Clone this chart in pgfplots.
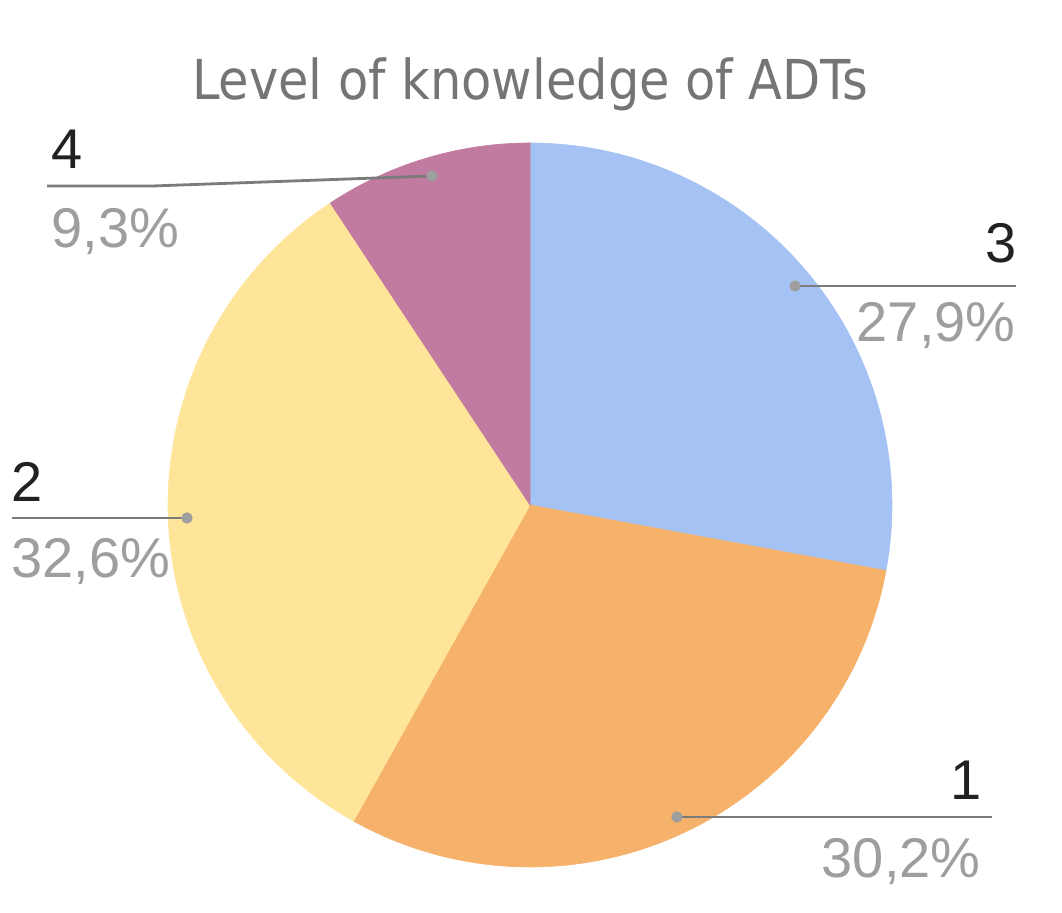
\documentclass[border=0pt]{standalone}
\usepackage{pgfplots}
\usepackage{pgfplotstable}
\pgfplotsset{compat=1.18}
\usepackage{fontspec}
\setmainfont{Liberation Sans}
\newfontfamily\titlefont{DejaVu Sans Condensed}
\definecolor{cblue}{HTML}{A4C2F4}
\definecolor{corange}{HTML}{F6B26B}
\definecolor{cyellow}{HTML}{FFE599}
\definecolor{cpurple}{HTML}{C27BA0}
\definecolor{ctitle}{HTML}{757575}
\definecolor{cpct}{HTML}{9E9E9E}
\definecolor{cnum}{HTML}{212121}
\definecolor{cline}{HTML}{7B7B7B}
\definecolor{cdot}{HTML}{9E9E9E}

% slices in drawing order, clockwise from the top
\pgfplotstableread{
label pct
3 27.9
1 30.2
2 32.6
4 9.3
}\piedata

\pgfplotstablegetelem{0}{pct}\of\piedata \let\pA\pgfplotsretval
\pgfplotstablegetelem{1}{pct}\of\piedata \let\pB\pgfplotsretval
\pgfplotstablegetelem{2}{pct}\of\piedata \let\pC\pgfplotsretval
\pgfplotstablegetelem{3}{pct}\of\piedata \let\pD\pgfplotsretval
\pgfmathsetmacro{\aZero}{90}
\pgfmathsetmacro{\aOne}{\aZero-3.6*\pA}
\pgfmathsetmacro{\aTwo}{\aOne-3.6*\pB}
\pgfmathsetmacro{\aThree}{\aTwo-3.6*\pC}
\pgfmathsetmacro{\aFour}{\aThree-3.6*\pD}

\begin{document}
\begin{tikzpicture}
\begin{axis}[
  width=531pt, height=456.5pt, scale only axis,
  xmin=0, xmax=1062, ymin=0, ymax=913,
  hide axis, clip=false,
]
% full canvas as bounding box
\path (axis cs:0,0) rectangle (axis cs:1062,913);
% pie slices (center 530,408; radius 362)
\addplot[fill=cblue, draw=cblue, line width=0.3pt, domain=\aOne:\aZero, samples=120, variable=\t]
  ({530+362*cos(\t)},{408+362*sin(\t)}) -- (axis cs:530,408) -- cycle;
\addplot[fill=corange, draw=corange, line width=0.3pt, domain=\aTwo:\aOne, samples=120, variable=\t]
  ({530+362*cos(\t)},{408+362*sin(\t)}) -- (axis cs:530,408) -- cycle;
\addplot[fill=cyellow, draw=cyellow, line width=0.3pt, domain=\aThree:\aTwo, samples=120, variable=\t]
  ({530+362*cos(\t)},{408+362*sin(\t)}) -- (axis cs:530,408) -- cycle;
\addplot[fill=cpurple, draw=cpurple, line width=0.3pt, domain=\aFour:\aThree, samples=60, variable=\t]
  ({530+362*cos(\t)},{408+362*sin(\t)}) -- (axis cs:530,408) -- cycle;

% leader lines
\addplot[cline, line width=1.4pt, no marks] coordinates {(432,737) (153,727) (47,727)};
\addplot[cline, line width=1.4pt, no marks] coordinates {(795,627) (1016,627)};
\addplot[cline, line width=1.4pt, no marks] coordinates {(12,395) (187,395)};
\addplot[cline, line width=1.4pt, no marks] coordinates {(677,96) (992,96)};
% dots
\addplot[only marks, mark=*, mark size=2.6pt, cdot, mark options={draw=cdot, fill=cdot}]
  coordinates {(432,737) (795,627) (187,395) (677,96)};

% title
\node[anchor=base, inner sep=0pt, text=ctitle, font=\titlefont\fontsize{27.5}{32}\selectfont]
  at (axis cs:530,813) {Level of knowledge of ADTs};

% labels
\tikzset{lab/.style={inner sep=0pt, font=\fontsize{28}{32}\selectfont}}
\node[lab, anchor=base west, text=cnum] at (axis cs:51,744) {4};
\node[lab, anchor=base west, text=cpct] at (axis cs:51,665) {9,3\%};
\node[lab, anchor=base east, text=cnum] at (axis cs:1017,650) {3};
\node[lab, anchor=base east, text=cpct] at (axis cs:1016,571) {27,9\%};
\node[lab, anchor=base west, text=cnum] at (axis cs:11,411) {2};
\node[lab, anchor=base west, text=cpct] at (axis cs:11,335) {32,6\%};
\node[lab, anchor=base east, text=cnum] at (axis cs:982,113) {1};
\node[lab, anchor=base east, text=cpct] at (axis cs:981,35) {30,2\%};
\end{axis}
\end{tikzpicture}
\end{document}
